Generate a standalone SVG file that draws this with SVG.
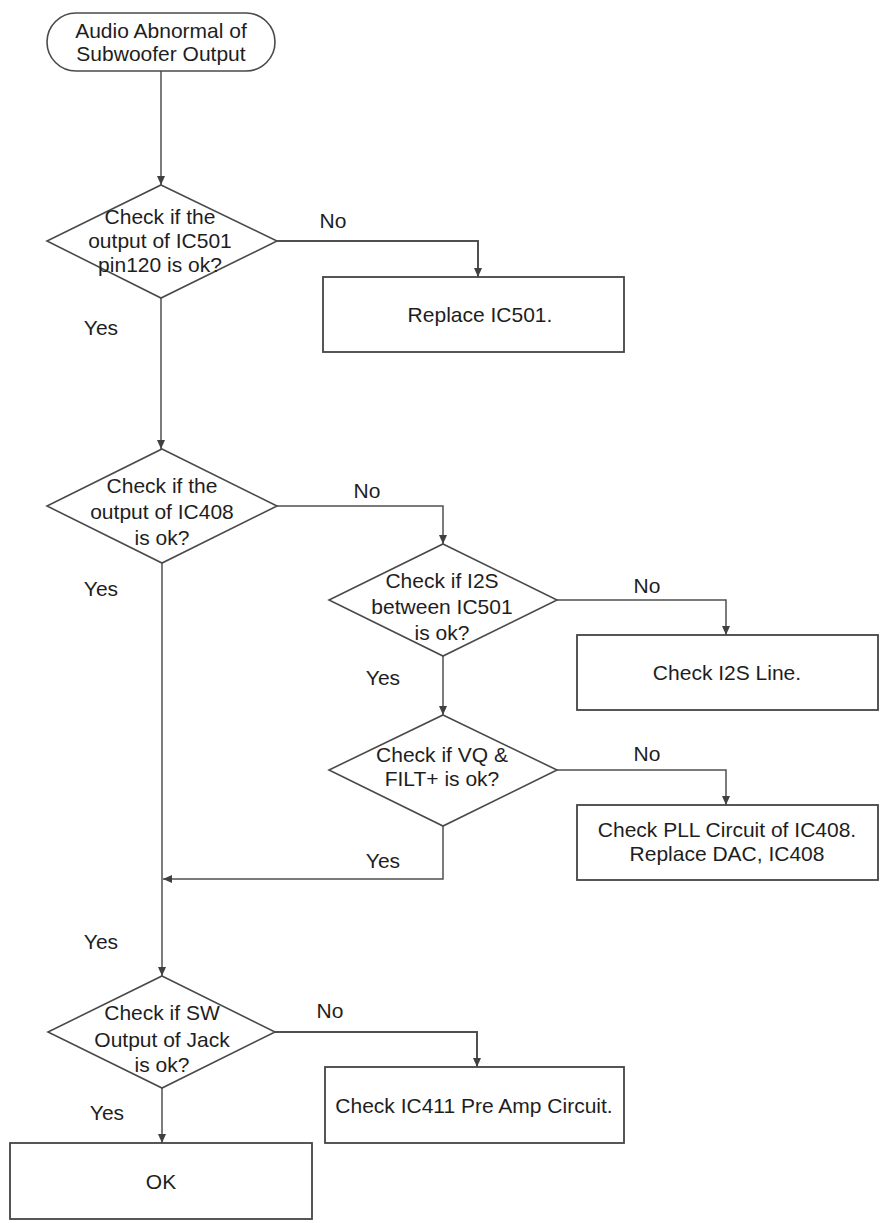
<svg xmlns="http://www.w3.org/2000/svg" width="887" height="1223" viewBox="0 0 887 1223">
<style>
  .shape { fill: #ffffff; stroke: #4a4a4a; stroke-width: 1.6; }
  .box { fill: #ffffff; stroke: #444444; stroke-width: 1.8; }
  .conn { fill: none; stroke: #505050; stroke-width: 1.5; }
  text { font-family: "Liberation Sans", Arial, sans-serif; font-size: 21px; fill: #1e1e1e; text-anchor: middle; }
  .lbl { font-size: 21px; }
</style>
<defs>
  <marker id="arr" markerUnits="userSpaceOnUse" markerWidth="10" markerHeight="8" refX="9" refY="4" orient="auto">
    <path d="M0,0 L9,4 L0,8 Z" fill="#404040"/>
  </marker>
</defs>
<rect width="887" height="1223" fill="#ffffff"/>

<g id="connectors">
  <path class="conn" d="M161,71 L161,185" marker-end="url(#arr)"/>
  <path class="conn" d="M277,241 L478,241 L478,277" marker-end="url(#arr)" style="stroke-width:2"/>
  <path class="conn" d="M161,298 L161,449" marker-end="url(#arr)"/>
  <path class="conn" d="M277,506 L443,506 L443,544" marker-end="url(#arr)"/>
  <path class="conn" d="M557,600 L726,600 L726,635" marker-end="url(#arr)"/>
  <path class="conn" d="M443,656 L443,715" marker-end="url(#arr)"/>
  <path class="conn" d="M557,770 L726,770 L726,805" marker-end="url(#arr)"/>
  <path class="conn" d="M443,826 L443,879 L163,879" marker-end="url(#arr)"/>
  <path class="conn" d="M162,563 L162,976" marker-end="url(#arr)"/>
  <path class="conn" d="M275,1032 L477,1032 L477,1067" marker-end="url(#arr)" style="stroke-width:2"/>
  <path class="conn" d="M162,1088 L162,1143" marker-end="url(#arr)"/>
  <text class="lbl" x="333" y="228">No</text>
  <text class="lbl" x="101" y="335">Yes</text>
  <text class="lbl" x="367" y="498">No</text>
  <text class="lbl" x="101" y="596">Yes</text>
  <text class="lbl" x="647" y="593">No</text>
  <text class="lbl" x="383" y="685">Yes</text>
  <text class="lbl" x="647" y="761">No</text>
  <text class="lbl" x="383" y="868">Yes</text>
  <text class="lbl" x="101" y="949">Yes</text>
  <text class="lbl" x="330" y="1018">No</text>
  <text class="lbl" x="107" y="1120">Yes</text>
</g>

<g id="start">
  <rect class="shape" x="47" y="13" width="228" height="58" rx="29" ry="29"/>
  <text x="161" y="38">Audio Abnormal of</text>
  <text x="161" y="61">Subwoofer Output</text>
</g>

<g id="d1">
  <polygon class="shape" points="161,185 277,241 161,298 47,241"/>
  <text x="160" y="224">Check if the</text>
  <text x="160" y="248">output of IC501</text>
  <text x="160" y="272">pin120 is ok?</text>
</g>

<g id="b1">
  <rect class="box" x="323" y="277" width="301" height="75"/>
  <text x="480" y="322">Replace IC501.</text>
</g>

<g id="d2">
  <polygon class="shape" points="162,449 277,506 162,563 47,506"/>
  <text x="162" y="493">Check if the</text>
  <text x="162" y="519">output of IC408</text>
  <text x="162" y="545">is ok?</text>
</g>

<g id="d3">
  <polygon class="shape" points="443,544 557,600 443,656 329,600"/>
  <text x="442" y="588">Check if I2S</text>
  <text x="442" y="614">between IC501</text>
  <text x="442" y="640">is ok?</text>
</g>

<g id="b2">
  <rect class="box" x="577" y="635" width="301" height="75"/>
  <text x="727" y="680">Check I2S Line.</text>
</g>

<g id="d4">
  <polygon class="shape" points="443,715 557,770 443,826 329,770"/>
  <text x="442" y="762">Check if VQ &amp;</text>
  <text x="442" y="786">FILT+ is ok?</text>
</g>

<g id="b3">
  <rect class="box" x="577" y="805" width="301" height="75"/>
  <text x="727" y="837">Check PLL Circuit of IC408.</text>
  <text x="727" y="861">Replace DAC, IC408</text>
</g>

<g id="d5">
  <polygon class="shape" points="162,976 275,1032 162,1088 48,1032"/>
  <text x="162" y="1020">Check if SW</text>
  <text x="162" y="1047">Output of Jack</text>
  <text x="162" y="1072">is ok?</text>
</g>

<g id="b4">
  <rect class="box" x="325" y="1067" width="299" height="76"/>
  <text x="474" y="1113">Check IC411 Pre Amp Circuit.</text>
</g>

<g id="ok">
  <rect class="box" x="10" y="1143" width="302" height="76"/>
  <text x="161" y="1189">OK</text>
</g>
</svg>
